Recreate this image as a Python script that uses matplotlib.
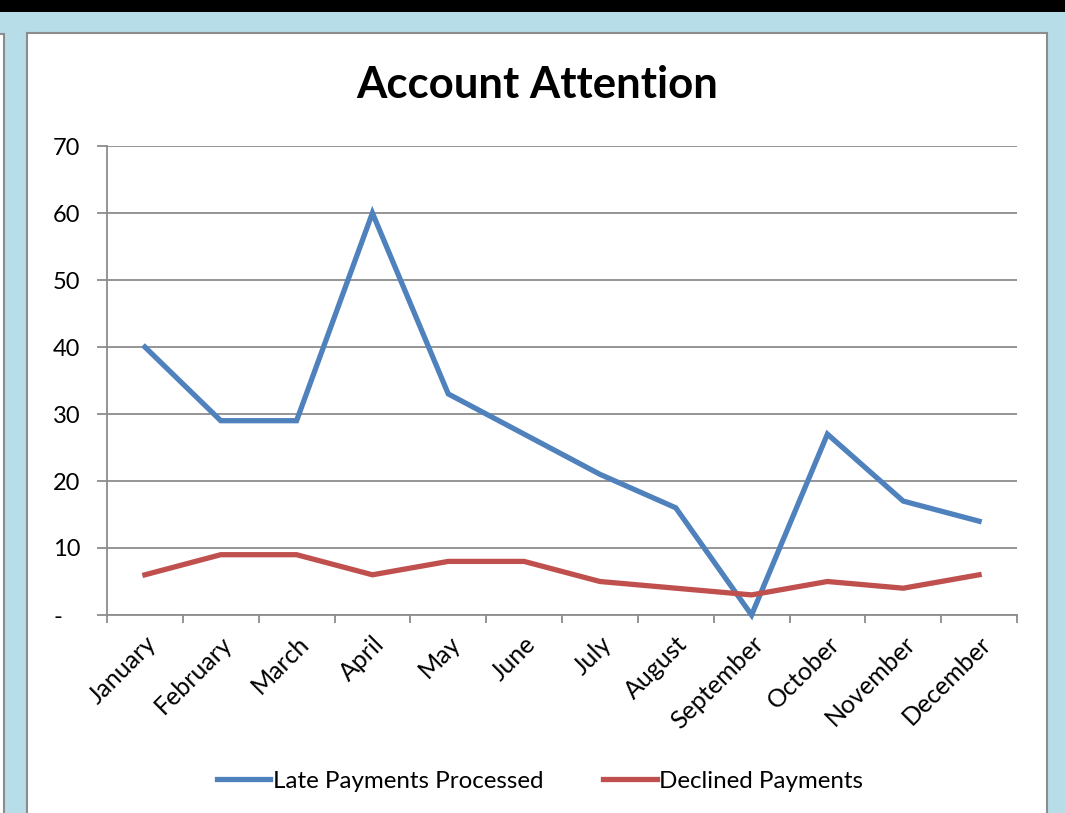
from matplotlib import pyplot as plt
from matplotlib.patches import Rectangle
from matplotlib.ticker import FixedLocator, FuncFormatter

months = ['January', 'February', 'March', 'April', 'May', 'June', 'July',
          'August', 'September', 'October', 'November', 'December']
late_payments = [40, 29, 29, 60, 33, 27, 21, 16, 0, 27, 17, 14]
declined_payments = [6, 9, 9, 6, 8, 8, 5, 4, 3, 5, 4, 6]

W, H = 1065, 813
plt.rcParams['font.family'] = ['Lato', 'DejaVu Sans']

fig = plt.figure(figsize=(W / 100, H / 100), dpi=100)
fig.patch.set_facecolor('#b7dde8')


def px_rect(x0, y0, x1, y1, **kw):
    # rectangle given in pixel coords, origin top-left
    r = Rectangle((x0 / W, 1 - y1 / H), (x1 - x0) / W, (y1 - y0) / H,
                  transform=fig.transFigure, zorder=-5, **kw)
    fig.patches.append(r)


px_rect(0, 0, W, 12, facecolor='black', edgecolor='none')
px_rect(-10, 34, 4, H + 10, facecolor='white', edgecolor='#8c8c8c', lw=1.5)
px_rect(27, 33, 1047, H + 10, facecolor='white', edgecolor='#8c8c8c', lw=1.5)

left, right, top, bottom = 107, 1017, 146, 615
ax = fig.add_axes([left / W, 1 - bottom / H, (right - left) / W, (bottom - top) / H])
ax.set_facecolor('none')

x = [i + 0.5 for i in range(len(months))]
blue, red = '#4f81bd', '#c0504d'
ax.plot(x, late_payments, color=blue, lw=3.8, label='Late Payments Processed',
        solid_joinstyle='miter', zorder=3, clip_on=False)
ax.plot(x, declined_payments, color=red, lw=3.8, label='Declined Payments',
        solid_joinstyle='miter', zorder=3, clip_on=False)

ax.set_xlim(0, 12)
ax.set_ylim(0, 70)
grid = '#8c8c8c'
ax.set_yticks(range(0, 71, 10))
# accounting style: zero shown as an indented dash
ax.yaxis.set_major_formatter(FuncFormatter(lambda v, p: '-   ' if v == 0 else '%d' % v))
ax.grid(axis='y', color=grid, lw=1.3)
ax.set_axisbelow(True)

ax.set_xticks(x)
ax.set_xticklabels(months, rotation=45, ha='right', rotation_mode='anchor')
ax.xaxis.set_minor_locator(FixedLocator(range(13)))
ax.tick_params(axis='x', which='major', length=0, pad=12, labelsize=18)
ax.tick_params(axis='x', which='minor', length=6, width=1.3, color=grid)
ax.tick_params(axis='y', length=7, width=1.3, color=grid, labelsize=17, pad=12)

for side in ['top', 'right']:
    ax.spines[side].set_visible(False)
for side in ['left', 'bottom']:
    ax.spines[side].set_color(grid)
    ax.spines[side].set_linewidth(1.3)

fig.text(537 / W, 1 - 85 / H, 'Account Attention', ha='center', va='center',
         fontsize=31.5, fontweight='bold')

fig.legend(loc='center', bbox_to_anchor=(540 / W, 1 - 781 / H), ncol=2,
           frameon=False, fontsize=17.4, handlelength=2.2, handletextpad=0.1,
           columnspacing=2.5)

fig.savefig('out.png', dpi=100, facecolor=fig.get_facecolor())
